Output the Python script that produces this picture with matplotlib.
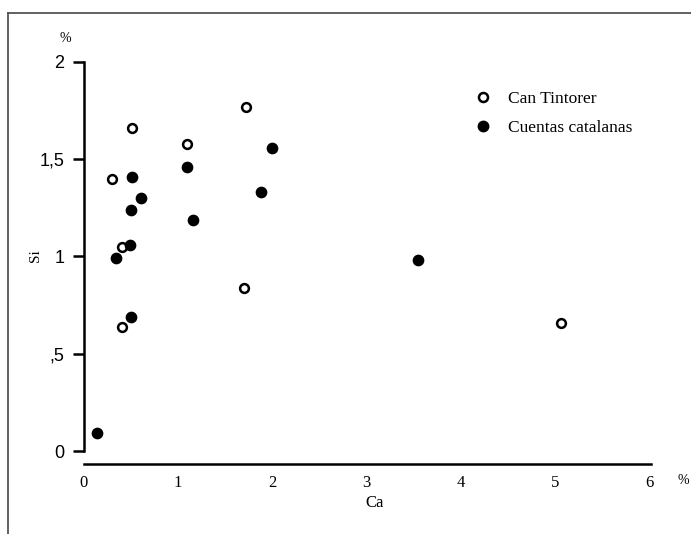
import matplotlib
matplotlib.use("Agg")
import matplotlib.pyplot as plt
from matplotlib.lines import Line2D

# Data (Ca %, Si %)
ct_ca = [0.30, 0.51, 1.09, 1.72, 0.40, 0.40, 1.70, 5.07]
ct_si = [1.40, 1.66, 1.58, 1.77, 1.05, 0.64, 0.84, 0.66]
cc_ca = [0.51, 0.61, 0.50, 1.09, 1.16, 2.00, 1.88, 0.49, 0.34, 0.50, 0.14, 3.55]
cc_si = [1.41, 1.30, 1.24, 1.46, 1.19, 1.56, 1.33, 1.06, 0.99, 0.69, 0.09, 0.98]
series_labels = ["Can Tintorer", "Cuentas catalanas"]
x_ticks = [0, 1, 2, 3, 4, 5, 6]
y_ticks = [0, 0.5, 1, 1.5, 2]
y_ticklabels = ["0", ",5", "1", "1,5", "2"]

W, H = 691, 534
fig = plt.figure(figsize=(W / 100, H / 100), dpi=100)
fig.patch.set_facecolor("white")

# border frame of the scan
fig.add_artist(Line2D([8 / W, 1], [1 - 13 / H, 1 - 13 / H], color="#555555", lw=1.3))
fig.add_artist(Line2D([8 / W, 8 / W], [0, 1 - 13 / H], color="#555555", lw=1.3))

left = 84 / W
right = 649 / W
bottom = (H - 451) / H
top = (H - 62) / H
ax = fig.add_axes([left, bottom, right - left, top - bottom])
ax.set_xlim(0, 6)
ax.set_ylim(0, 2)

ax.scatter(ct_ca, ct_si, s=40, facecolors="white", edgecolors="black", linewidths=1.8, zorder=3)
ax.scatter(cc_ca, cc_si, s=55, color="black", zorder=3)

for s in ["top", "right"]:
    ax.spines[s].set_visible(False)
ax.spines["left"].set_linewidth(1.8)
ax.spines["bottom"].set_linewidth(1.8)
ax.spines["bottom"].set_position(("outward", 9))
ax.spines["bottom"].set_bounds(0, 6.02)

ax.set_xticks(x_ticks)
ax.set_xticklabels([str(v) for v in x_ticks], family="Liberation Serif", fontsize=12)
ax.tick_params(axis="x", length=0, pad=8)
ax.set_yticks(y_ticks)
ax.set_yticklabels(y_ticklabels, family="Liberation Sans", fontsize=13, fontweight="medium")
ax.tick_params(axis="y", length=8, width=1.8, pad=6)

# axis annotations
fig.text(65 / W, 1 - 38 / H, "%", family="Liberation Serif", fontsize=10, ha="center", va="center")
fig.text(36 / W, 1 - 256 / H, "Si", family="Liberation Serif", fontsize=11, ha="center", va="center", rotation=90)
fig.text(375 / W, 1 - 503 / H, "Ca", family="Liberation Serif", fontsize=12, ha="center", va="center")
fig.text(683 / W, 1 - 480 / H, "%", family="Liberation Serif", fontsize=10, ha="center", va="center")

# legend
handles = [
    Line2D([], [], marker="o", linestyle="none", markersize=6.5, markerfacecolor="white",
           markeredgecolor="black", markeredgewidth=1.8),
    Line2D([], [], marker="o", linestyle="none", markersize=7.5, color="black"),
]
leg = ax.legend(handles, series_labels, loc="upper left",
                bbox_to_anchor=((466 - 84) / (649 - 84), 1 - (84 - 62) / (451 - 62)),
                frameon=False, prop={"family": "Liberation Serif", "size": 12.5},
                handletextpad=0.8, labelspacing=0.75, borderaxespad=0, handlelength=1.2)

fig.savefig("out.png", dpi=100, facecolor="white")
